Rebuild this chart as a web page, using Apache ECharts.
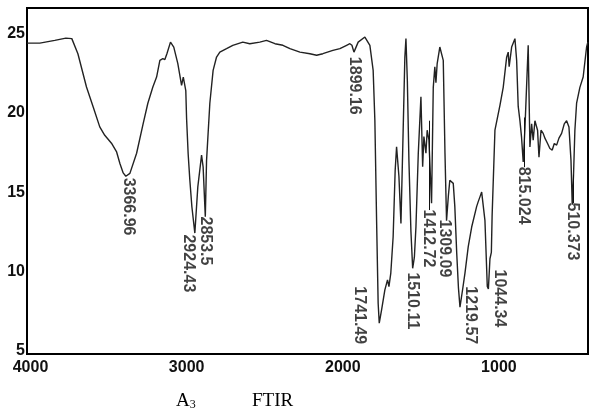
<!DOCTYPE html>
<html>
<head>
<meta charset="utf-8">
<script src="https://cdn.jsdelivr.net/npm/echarts@6/dist/echarts.min.js"></script>
<style>
  html, body { margin: 0; padding: 0; background: #fff; }
  #chart { width: 589px; height: 419px; }
</style>
</head>
<body>
<div id="chart"></div>
<script>
  // 波数 (cm-1) / 透过率
  const waveNumbers = [
    4000, 3918, 3822, 3751, 3713, 3674, 3619, 3576, 3534, 3502,
    3459, 3426, 3405, 3384, 3367, 3341, 3298, 3256, 3226, 3194,
    3170, 3149, 3130, 3117, 3104, 3081, 3060, 3034, 3010, 2999,
    2989, 2983, 2978, 2968, 2957, 2944, 2925, 2906, 2882, 2872,
    2858, 2850, 2829, 2808, 2786, 2765, 2722, 2682, 2618, 2573,
    2509, 2466, 2412, 2361, 2316, 2252, 2188, 2145, 2105, 2041,
    1996, 1953, 1932, 1919, 1906, 1879, 1836, 1804, 1783, 1772,
    1761, 1751, 1744, 1729, 1708, 1691, 1682, 1670, 1655, 1642,
    1633, 1618, 1605, 1593, 1580, 1573, 1564, 1554, 1541, 1530,
    1519, 1509, 1494, 1477, 1466, 1458, 1445, 1437, 1426, 1409,
    1398, 1388, 1381, 1373, 1356, 1345, 1334, 1323, 1313, 1301,
    1292, 1281, 1270, 1260, 1248, 1237, 1227, 1211, 1195, 1174,
    1152, 1120, 1110, 1099, 1088, 1080, 1067, 1052, 1045, 1035,
    1026, 1021, 1003, 971, 950, 928, 918, 912, 896, 875,
    864, 854, 843, 833, 822, 811, 790, 779, 768, 758,
    747, 730, 721, 708, 694, 683, 666, 651, 636, 623,
    608, 593, 576, 559, 544, 529, 516, 508, 500, 491,
    480, 459, 438, 416, 408
  ]
  const transmittance = [
    24.39, 24.39, 24.56, 24.70, 24.67, 23.72, 21.62, 20.36, 19.11, 18.58,
    18.08, 17.53, 16.80, 16.21, 16.00, 16.18, 17.45, 19.32, 20.60, 21.62,
    22.25, 23.30, 23.41, 23.35, 23.72, 24.45, 24.14, 23.10, 21.73, 22.25,
    22.20, 21.40, 19.65, 17.43, 15.75, 14.08, 12.42, 15.33, 17.33, 16.59,
    13.45, 17.00, 20.60, 22.67, 23.51, 23.82, 24.04, 24.25, 24.45, 24.35,
    24.45, 24.56, 24.35, 24.25, 24.04, 23.82, 23.72, 23.62, 23.72, 23.93,
    24.04, 24.25, 24.35, 24.25, 23.82, 24.45, 24.77, 24.25, 22.67, 19.50,
    13.20, 8.00, 6.74, 7.58, 8.84, 9.47, 9.05, 9.90, 12.19, 16.38,
    17.85, 16.00, 13.03, 18.00, 23.50, 24.67, 22.00, 17.00, 12.50, 10.20,
    10.90, 12.80, 17.43, 21.00, 16.60, 18.50, 17.45, 18.90, 18.30, 14.30,
    21.60, 22.90, 21.90, 23.10, 24.14, 24.14, 23.30, 17.45, 13.20, 14.80,
    15.75, 15.65, 15.55, 14.10, 11.20, 9.00, 7.75, 8.80, 9.90, 11.56,
    12.80, 14.10, 14.40, 14.70, 15.00, 15.10, 13.20, 9.05, 8.90, 10.80,
    11.20, 13.55, 18.90, 20.47, 21.60, 23.50, 23.82, 22.90, 24.14, 24.67,
    23.30, 20.40, 19.50, 18.50, 16.90, 19.00, 24.25, 17.85, 19.30, 18.27,
    19.50, 18.90, 17.20, 18.90, 18.70, 18.40, 18.06, 17.75, 17.65, 18.06,
    17.96, 18.40, 18.70, 19.30, 19.50, 19.10, 17.00, 14.20, 16.00, 18.90,
    20.60, 21.60, 22.25, 24.14, 24.45
  ]
  const xTicks = [4000, 3000, 2000, 1000]
  const yTicks = [5, 10, 15, 20, 25]

  // 峰位标注
  const peakLabels = ['3366.96', '2924.43', '2853.5', '1899.16', '1741.49', '1510.11',
    '1412.72', '1309.09', '1219.57', '1044.34', '815.024', '510.373']
  const peakX = [3348, 2963, 2855, 1897, 1868, 1529, 1426, 1323, 1157, 971, 818, 504]
  const peakTop = [15.88, 12.30, 13.43, 23.49, 9.03, 9.91, 13.87, 13.24, 9.03, 10.09, 16.57, 14.31]
  const peakLead = [null, null, null, null, null, null, 19.5, null, null, null, 19.7, 16.1]

  const chart = echarts.init(document.getElementById('chart'), null, { renderer: 'canvas' })

  const leadLines = []
  peakX.forEach((x, i) => {
    if (peakLead[i] !== null) {
      leadLines.push([{ coord: [x, peakLead[i]] }, { coord: [x, peakTop[i]] }])
    }
  })

  chart.setOption({
    animation: false,
    backgroundColor: '#fff',
    title: [{
      text: 'A{s|3}',
      left: 176,
      top: 392,
      padding: 0,
      textStyle: {
        fontFamily: 'Liberation Serif',
        fontSize: 19,
        fontWeight: 'normal',
        color: '#000',
        lineHeight: 19,
        verticalAlign: 'bottom',
        rich: { s: { fontFamily: 'Liberation Serif', fontSize: 12, lineHeight: 12, verticalAlign: 'bottom', color: '#000' } }
      }
    }, {
      text: 'FTIR',
      left: 252,
      top: 392,
      padding: 0,
      textStyle: { fontFamily: 'Liberation Serif', fontSize: 19, fontWeight: 'normal', color: '#000', lineHeight: 19 }
    }],
    grid: {
      left: 27, right: 1, top: 8, bottom: 65,
      show: true, borderColor: '#000', borderWidth: 2,
      containLabel: false, outerBoundsMode: 'none'
    },
    xAxis: {
      type: 'value',
      inverse: true,
      min: 407,
      max: 4000,
      splitLine: { show: false },
      axisTick: { show: false },
      axisLine: { lineStyle: { color: '#000', width: 2 } },
      axisLabel: {
        customValues: xTicks,
        formatter: v => String(v),
        margin: 6,
        padding: [0, 0, 0, 7],
        color: '#111',
        fontFamily: 'Liberation Sans',
        fontWeight: 'bold',
        fontSize: 16
      }
    },
    yAxis: {
      type: 'value',
      min: 4.8,
      max: 26.6,
      splitLine: { show: false },
      axisTick: { show: false },
      axisLine: { show: true, lineStyle: { color: '#000', width: 2 } },
      axisLabel: {
        customValues: yTicks,
        formatter: v => String(v),
        margin: 2,
        color: '#111',
        fontFamily: 'Liberation Sans',
        fontWeight: 'bold',
        fontSize: 16
      }
    },
    series: [{
      type: 'line',
      data: waveNumbers.map((w, i) => [w, transmittance[i]]),
      showSymbol: false,
      lineStyle: { color: '#222', width: 1.4 },
      silent: true
    }, {
      type: 'scatter',
      data: peakX.map((x, i) => [x, peakTop[i], peakLabels[i]]),
      symbolSize: 1,
      itemStyle: { color: 'transparent' },
      silent: true,
      label: {
        show: true,
        position: [0, 0],
        align: 'left',
        verticalAlign: 'middle',
        rotate: -90,
        formatter: p => p.value[2],
        color: '#111',
        fontFamily: 'Liberation Sans',
        fontWeight: 'bold',
        fontSize: 16
      },
      markLine: {
        silent: true,
        symbol: 'none',
        label: { show: false },
        lineStyle: { color: '#111', width: 1, type: 'solid' },
        data: leadLines
      }
    }]
  })
</script>
</body>
</html>
